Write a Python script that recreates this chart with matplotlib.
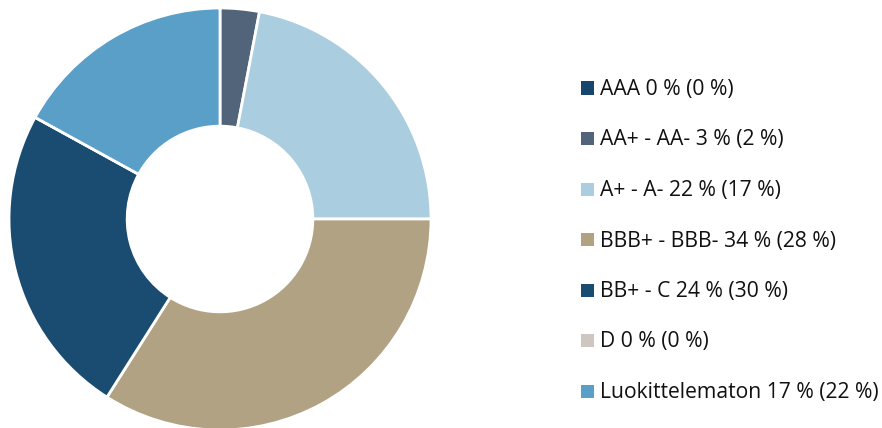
import matplotlib
matplotlib.use("Agg")
import matplotlib.pyplot as plt
from matplotlib.patches import Rectangle

categories = ["AAA", "AA+ - AA-", "A+ - A-", "BBB+ - BBB-", "BB+ - C", "D", "Luokittelematon"]
values = [0, 3, 22, 34, 24, 0, 17]
previous = [0, 2, 17, 28, 30, 0, 22]
colors = ["#17456b", "#52647a", "#aacde0", "#b0a282", "#1a4c71", "#cdc6c1", "#5a9fc8"]

plt.rcParams['font.family'] = ['Open Sans', 'DejaVu Sans']

W, H = 882, 428
fig = plt.figure(figsize=(W / 100, H / 100), dpi=100)
cx, cy, R = 220, 219, 211
ax = fig.add_axes([(cx - R) / W, (H - cy - R) / H, 2 * R / W, 2 * R / H])
ax.pie(values, colors=colors, startangle=90, counterclock=False, radius=1,
       wedgeprops=dict(width=0.56, edgecolor="white", linewidth=2))
ax.set_xlim(-1.0, 1.0)
ax.set_ylim(-1.0, 1.0)
ax.set_aspect("equal")
ax.axis("off")

y0, dy = 88, 50.5
for i, (cat, v, p, c) in enumerate(zip(categories, values, previous, colors)):
    y = y0 + i * dy
    fig.patches.append(Rectangle(((581) / W, (H - y - 6.5) / H), 13 / W, 13 / H,
                                 transform=fig.transFigure, facecolor=c, edgecolor="none"))
    fig.text(600 / W, (H - y - 1.5) / H, f"{cat} {v} % ({p} %)", fontsize=15.2,
             va="center", ha="left", color="#111111")

fig.savefig("out.png", dpi=100)
